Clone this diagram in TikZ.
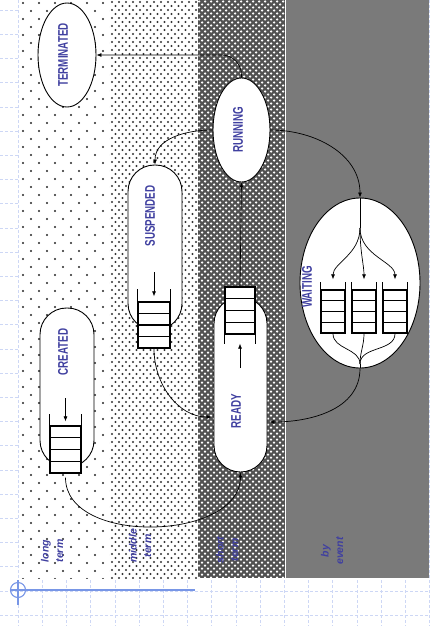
\documentclass[tikz,border=0pt]{standalone}
\usepackage{fontspec}
\setmainfont{Liberation Sans}
\usetikzlibrary{arrows.meta,calc,shapes.geometric}
\definecolor{txt}{RGB}{64,64,160}
\definecolor{gridc}{RGB}{205,215,245}
\definecolor{axisc}{RGB}{120,150,230}
\newcommand\qcells[1]{%
  \foreach \f in {0.25,0.5,0.75}
    \draw[qline] ($(#1.north west)!\f!(#1.south west)$) -- ($(#1.north east)!\f!(#1.south east)$);}
\begin{document}
\begin{tikzpicture}[x=1pt,y=-1pt,
  lab/.style={rotate=90,text=txt,font=\fontsize{14}{16}\selectfont\bfseries,inner sep=0pt},
  bandl/.style={rotate=90,text=txt,font=\fontsize{10.5}{14.5}\selectfont\bfseries\itshape,align=center,inner sep=0pt},
  stadium/.style={draw,fill=white,line width=0.9pt,rounded corners=26.5pt,inner sep=0pt},
  oval/.style={draw,fill=white,ellipse,line width=0.9pt,inner sep=0pt},
  qbox/.style={draw,fill=white,line width=1.3pt,inner sep=0pt},
  qline/.style={line width=1.3pt},
  arr/.style={-{Latex[length=5pt,width=4pt]},line width=0.7pt},
  con/.style={line width=0.7pt},
  gridl/.style={gridc,dash pattern=on 3pt off 2pt,line width=0.6pt},
]
\useasboundingbox (0,0) rectangle (429,626);
% background grid
\foreach \i in {0,...,25} \draw[gridl] (0,{10+24.2*\i}) -- (429,{10+24.2*\i});
\foreach \i in {0,...,17} \draw[gridl] ({18+24.2*\i},0) -- ({18+24.2*\i},626);
% band 1
\begin{scope}
\clip (20,0) rectangle (110,578);
\fill[white] (20,0) rectangle (110,578);
\foreach \r in {0,...,72} \foreach \c in {0,...,5}
  \fill[black!85] ({23+16*\c+8*mod(\r,2)},{3+8*\r}) circle (1.1);
\end{scope}
% band 2
\begin{scope}
\clip (110,0) rectangle (198,578);
\fill[white] (110,0) rectangle (198,578);
\foreach \r in {0,...,144} \foreach \c in {0,...,12}
  \fill[black!80] ({112+7*\c+3.5*mod(\r,2)},{2+4*\r}) circle (1.1);
\end{scope}
% band 3
\begin{scope}
\clip (198,0) rectangle (285,578);
\fill[black!68] (198,0) rectangle (285,578);
\foreach \r in {0,...,193} \foreach \c in {0,...,14}
  \fill[white] ({199+6*\c+3*mod(\r,2)},{1.5+3*\r}) circle (1.25);
\end{scope}
% band 4
\fill[black!52] (285,0) rectangle (429,578);
\draw[white,line width=0.8pt] (285,0) -- (285,578);
% blue axis mark
\coordinate (axc) at (18,590);
\coordinate (axe) at (195,590);
\draw[axisc,line width=1.1pt] (axc) circle (7.5);
\draw[axisc,line width=1.1pt] ([xshift=-8pt]axc) -- (axe);
\draw[axisc,line width=1.1pt] ([yshift=10pt]axc) -- ([yshift=-15pt]axc);
% band labels
\node[bandl] (lt) at (52,551) {long\\term};
\node[bandl] (mt) at (140,546) {middle\\term};
\node[bandl] (st) at (227,550) {short\\term};
\node[bandl] (be) at (332,551) {by\\event};
% main shapes
\node[oval,minimum width=58pt,minimum height=104pt] (term) at (67,55) {};
\node[oval,minimum width=57pt,minimum height=104pt] (run) at (241.5,130) {};
\node[oval,minimum width=120pt,minimum height=170pt] (wait) at (360,283) {};
\node[stadium,minimum width=54pt,minimum height=159pt] (cre) at (67,387.5) {};
\node[stadium,minimum width=54pt,minimum height=165pt] (susp) at (155,247.5) {};
\node[stadium,minimum width=53pt,minimum height=175pt] (ready) at (240.5,384.5) {};
% labels
\node[lab] (terml) at (63,55) {\scalebox{0.7}[1]{TERMINATED}};
\node[lab] (runl) at (238,130) {\scalebox{0.7}[1]{RUNNING}};
\node[lab] (waitl) at (307,287) {\scalebox{0.7}[1]{WAITING}};
\node[lab] (crel) at (63,352) {\scalebox{0.7}[1]{CREATED}};
\node[lab] (suspl) at (150,216) {\scalebox{0.7}[1]{SUSPENDED}};
\node[lab] (readyl) at (236,411) {\scalebox{0.7}[1]{READY}};
% queues
\node[qbox,minimum width=31pt,minimum height=47pt] (cq) at (65.5,449.5) {};
\qcells{cq}
\draw[qline] (cq.north west) -- ++(0,-11);
\draw[qline] (cq.north east) -- ++(0,-11);
\node[qbox,minimum width=32pt,minimum height=46pt] (sq) at (154,325) {};
\qcells{sq}
\draw[qline] (sq.north west) -- ++(0,-12);
\draw[qline] (sq.north east) -- ++(0,-12);
\node[qbox,minimum width=30pt,minimum height=47pt] (rq) at (240,310.5) {};
\qcells{rq}
\draw[qline] (rq.south west) -- ++(0,9);
\draw[qline] (rq.south east) -- ++(0,9);
\foreach \n/\x in {wq1/333,wq2/364,wq3/395}{
  \node[qbox,minimum width=24pt,minimum height=43pt] (\n) at (\x,311.5) {};
  \qcells{\n}
  \draw[qline] (\n.north west) -- ++(0,-7);
  \draw[qline] (\n.north east) -- ++(0,-7);
}
% small arrows into queues
\coordinate (ca) at (65.5,398);
\draw[arr,shorten >=4pt] (ca) -- (cq.north);
\coordinate (sa) at (154,272);
\draw[arr,shorten >=5pt] (sa) -- (sq.north);
\coordinate (ra) at (240,368);
\draw[arr,shorten >=9pt] (ra) -- (rq.south);
% connectors
\draw[arr,rounded corners=20pt] (run.north) |- (term.east);
\draw[arr] (run.west) to[out=180,in=90] (susp.north);
\draw[arr] (run.east) to[out=0,in=90] (wait.north);
\draw[arr] (rq.north) -- (run.south);
\draw[arr,shorten >=2pt] (sq.south) to[out=-90,in=180] ([yshift=-32.5pt]ready.west);
\draw[arr,shorten >=2pt] (wait.south) to[out=-90,in=0] ([yshift=-37.5pt]ready.east);
\draw[arr] ([yshift=-4pt]cq.south) to[out=-90,in=-90] (ready.south);
% waiting internals
\coordinate (wb) at (360,228);
\coordinate (wm) at (360,364);
\draw[con] (wait.north) -- (wb);
\foreach \n in {wq1,wq2,wq3}{
  \draw[arr,shorten >=10pt] (wb) to[out=-90,in=90] (\n.north);
  \draw[con] (\n.south) to[out=-90,in=90] (wm);
}
\draw[con] (wm) -- (wait.south);
\end{tikzpicture}
\end{document}
